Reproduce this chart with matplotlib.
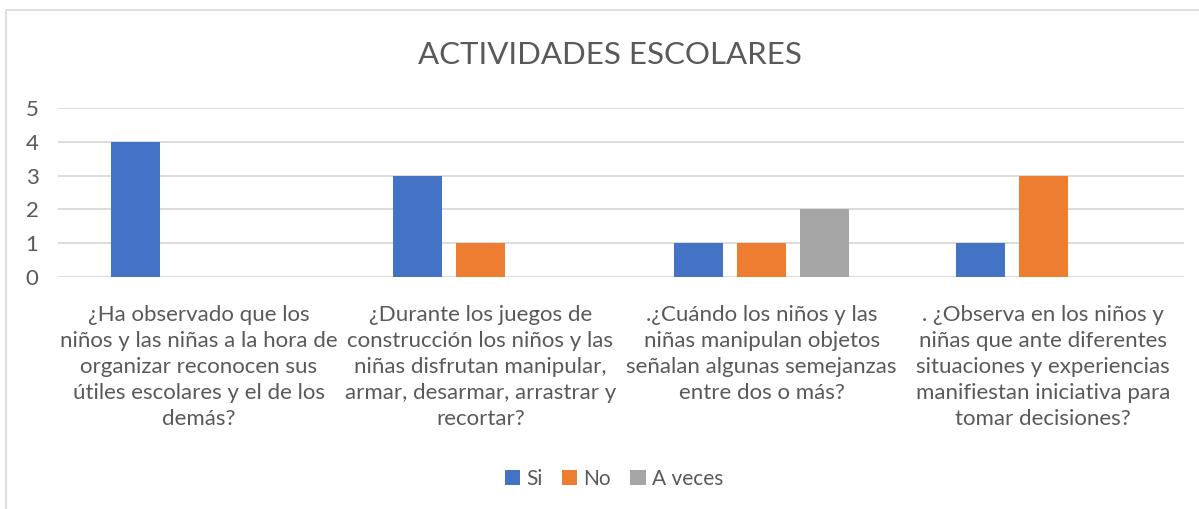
import matplotlib
matplotlib.use("Agg")
import matplotlib.pyplot as plt
import numpy as np
from matplotlib.patches import Rectangle

categories = [
    "¿Ha observado que los\nniños y las niñas a la hora de\norganizar reconocen sus\nútiles escolares y el de los\ndemás?",
    "¿Durante los juegos de\nconstrucción los niños y las\nniñas disfrutan manipular,\narmar, desarmar, arrastrar y\nrecortar?",
    ".¿Cuándo los niños y las\nniñas manipulan objetos\nseñalan algunas semejanzas\nentre dos o más?",
    ". ¿Observa en los niños y\nniñas que ante diferentes\nsituaciones y experiencias\nmanifiestan iniciativa para\ntomar decisiones?",
]
series_names = ["Si", "No", "A veces"]
si = [4, 3, 1, 1]
no = [0, 1, 1, 3]
a_veces = [0, 0, 2, 0]
title = "ACTIVIDADES ESCOLARES"

colors = ["#4472C4", "#ED7D31", "#A5A5A5"]
text_color = "#595959"
font = "Lato"

fig = plt.figure(figsize=(11.99, 5.09), dpi=100)
fig.patch.set_facecolor("white")
fig.patches.append(Rectangle((6/1199, -0.1), 1.2, 1 - 10/509 + 0.1, transform=fig.transFigure,
                             fill=False, edgecolor="#D9D9D9", linewidth=1.2, zorder=0))

ax = fig.add_axes([58/1199, 1 - 277/509, (1184-58)/1199, (277-108)/509])
x = np.arange(len(categories))
width = 0.174
step = 0.224
for i, (vals, name) in enumerate(zip([si, no, a_veces], series_names)):
    ax.bar(x + (i - 1) * step, vals, width, color=colors[i], label=name, zorder=3)

ax.set_xlim(-0.5, len(categories) - 0.5)
ax.set_ylim(0, 5)
ax.set_yticks(range(6))
ax.yaxis.grid(True, color="#D9D9D9", linewidth=1.3, zorder=0)
ax.set_axisbelow(True)
for s in ax.spines.values():
    s.set_visible(False)
ax.tick_params(axis="both", length=0)
ax.tick_params(axis="y", pad=14, labelsize=16, labelcolor=text_color)
ax.set_yticklabels([str(v) for v in range(6)], fontfamily=font)
ax.set_xticks(x)
ax.set_xticklabels(categories, fontsize=16, color=text_color, fontfamily=font, linespacing=1.38)
ax.tick_params(axis="x", pad=20)

fig.text(610/1199, 1 - 55/509, title, ha="center", va="center", fontsize=22.5, color=text_color, fontfamily=font)

leg = fig.legend(loc="center", bbox_to_anchor=(614/1199, 1 - 479/509), ncol=3, frameon=False,
                 prop={"family": font, "size": 15}, handlelength=0.75, handleheight=0.75,
                 handletextpad=0.3, columnspacing=0.9, labelcolor=text_color)

fig.savefig("out.png", dpi=100, facecolor="white")
